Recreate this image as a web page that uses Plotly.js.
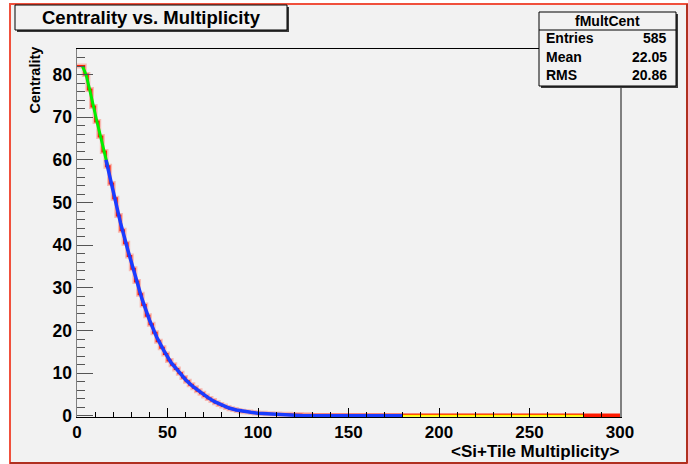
<!DOCTYPE html>
<html>
<head>
<meta charset="utf-8">
<script src="https://cdn.plot.ly/plotly-3.0.1.min.js"></script>
<style>html,body{margin:0;padding:0;background:#fff;}#chart{width:688px;height:464px;}</style>
</head>
<body>
<div id="chart"></div>
<script>
// ---- data ----
const binLow = [0,2,4,6,8,10,12,14,16,18,20,22,24,26,28,30,32,34,36,38,40,42,44,46,48,50,52,54,56,58,60,62,64,66,68,70,72,74,76,78,80,82,84,86,88,90,92,94,96,98,100,102,104,106,108,110,112,114,116,118,120,122,124,126,128];
const centrality = [82,82,80,76.5,72.5,69,65.5,62,58.5,54.5,51,47,43.5,40.5,37.5,34.5,31.5,28.5,26,23.5,21.5,19.5,17.5,16,14.5,13,12,11,10,9,8.1,7.3,6.6,5.9,5.3,4.7,4.1,3.6,3.1,2.7,2.3,2.0,1.7,1.5,1.3,1.1,1.0,0.9,0.8,0.7,0.6,0.6,0.5,0.5,0.45,0.45,0.4,0.4,0.4,0.35,0.35,0.35,0.3,0.3,0.3];
const binWidth = 2;
const tailX = [130, 300];
const tailY = [0.4, 0.4];
const greenX = [3,5,7,9,11,13,15,17];
const greenY = [82,80,76.5,72.5,69,65.5,62,58.5];
const blueX = [16,20,24,28,32,36,40,44,48,52,56,60,64,68,72,76,80,84,88,92,96,100,110,120,125,150,180];
const blueY = [60,52.8,45.3,39,33,27.3,22.5,18.5,15.3,12.5,10.5,8.5,6.9,5.6,4.4,3.35,2.5,1.85,1.4,1.05,0.85,0.65,0.4,0.25,0.05,0.02,0.02];
const yellowX = [180, 280];
const yellowY = [0.02, 0.02];
const redEndX = [280, 300];
const redEndY = [0.1, 0.1];
const xTicks = [0,50,100,150,200,250,300];
const yTicks = [0,10,20,30,40,50,60,70,80];
const titleText = "Centrality vs. Multiplicity";
const statsName = "fMultCent";
const statsLabels = ["Entries","Mean","RMS"];
const statsValues = ["585","22.05","20.86"];

// ---- geometry helpers (pixel -> paper) ----
const W = 688, H = 464;
const L = 77, R = 620, T = 49, B = 417;
const px = v => (v - L) / (R - L);
const py = v => (B - v) / (B - T);
const FONT = "Liberation Sans, Arial, sans-serif";

const histX = binLow.concat([binLow[binLow.length-1] + binWidth]);
const histY = centrality.concat([centrality[centrality.length-1]]);

const traces = [
  {x: histX, y: histY, mode:'lines', line:{shape:'hv', color:'rgba(255,80,60,0.35)', width:5}, hoverinfo:'skip'},
  {x: histX, y: histY, mode:'lines', line:{shape:'hv', color:'#ff1a00', width:2}},
  {x: tailX, y: tailY, mode:'lines', line:{color:'#ff1a00', width:1.5}},
  {x: greenX, y: greenY, mode:'lines', line:{color:'#00ee00', width:3}},
  {x: blueX, y: blueY, mode:'lines', line:{color:'#1a3cff', width:3.5}},
  {x: yellowX, y: yellowY, mode:'lines', line:{color:'#ffff00', width:2}},
  {x: redEndX, y: redEndY, mode:'lines', line:{color:'#ff1a00', width:3}}
];

const shapes = [
  // canvas
  {type:'rect', xref:'paper', yref:'paper', x0:px(10), x1:px(687), y0:py(4), y1:py(463), fillcolor:'#f2f2f2', line:{color:'#f0503c', width:2}, layer:'below'},
  {type:'line', xref:'paper', yref:'paper', x0:px(687), x1:px(687), y0:py(4), y1:py(463), line:{color:'#b03020', width:2}, layer:'below'},
  {type:'line', xref:'paper', yref:'paper', x0:px(10), x1:px(687), y0:py(463), y1:py(463), line:{color:'#b03020', width:2}, layer:'below'},
  // title box shadow + box
  {type:'rect', xref:'paper', yref:'paper', x0:px(17), x1:px(289), y0:py(7), y1:py(32), fillcolor:'#3a3a3a', line:{width:0}},
  {type:'rect', xref:'paper', yref:'paper', x0:px(15), x1:px(287), y0:py(5), y1:py(30), fillcolor:'#f2f2f2', line:{color:'#000', width:1}},
  // stats box shadow + box
  {type:'rect', xref:'paper', yref:'paper', x0:px(541), x1:px(678), y0:py(14), y1:py(88), fillcolor:'#3a3a3a', line:{width:0}},
  {type:'rect', xref:'paper', yref:'paper', x0:px(539), x1:px(676), y0:py(12), y1:py(86), fillcolor:'#f2f2f2', line:{color:'#000', width:1}},
  {type:'line', xref:'paper', yref:'paper', x0:px(539), x1:px(676), y0:py(30), y1:py(30), line:{color:'#000', width:1}}
];

const annotations = [
  {text:titleText, xref:'paper', yref:'paper', x:px(151), y:py(17.5), xanchor:'center', yanchor:'middle', showarrow:false, font:{family:FONT, size:18.5, weight:'bold', color:'#000'}},
  {text:statsName, xref:'paper', yref:'paper', x:px(607), y:py(21), xanchor:'center', yanchor:'middle', showarrow:false, font:{family:FONT, size:14, weight:'bold', color:'#000'}},
  {text:"Centrality", xref:'paper', yref:'paper', x:px(35), y:py(45), xanchor:'center', yanchor:'top', textangle:-90, showarrow:false, font:{family:FONT, size:14.5, weight:'bold', color:'#000'}},
  {text:"&lt;Si+Tile Multiplicity&gt;", xref:'paper', yref:'paper', x:px(621), y:py(451), xanchor:'right', yanchor:'middle', showarrow:false, font:{family:FONT, size:17, weight:'bold', color:'#000'}}
];
const rowY = [38, 57, 75];
statsLabels.forEach((lab, i) => {
  annotations.push({text:lab, xref:'paper', yref:'paper', x:px(544), y:py(rowY[i]), xanchor:'left', yanchor:'middle', showarrow:false, font:{family:FONT, size:14, weight:'bold', color:'#000'}});
  annotations.push({text:statsValues[i], xref:'paper', yref:'paper', x:px(669), y:py(rowY[i]), xanchor:'right', yanchor:'middle', showarrow:false, font:{family:FONT, size:14, weight:'bold', color:'#000'}});
});

const layout = {
  width: W, height: H,
  margin: {l:L, r:W-R, t:T, b:H-B, pad:0},
  paper_bgcolor:'#ffffff',
  plot_bgcolor:'#f2f2f2',
  showlegend:false,
  xaxis: {
    range:[0,300], tickvals:xTicks, ticktext:xTicks.map(String),
    ticks:'inside', ticklen:9, tickcolor:'#000', tickwidth:1,
    minor:{ticks:'inside', ticklen:5, dtick:10, tickcolor:'#000', showgrid:false},
    showgrid:false, zeroline:false,
    showline:true, linecolor:'#000', linewidth:1, mirror:true,
    tickfont:{family:FONT, size:17, weight:'bold', color:'#000'},
    fixedrange:true
  },
  yaxis: {
    range:[-0.25,86], tickvals:yTicks, ticktext:yTicks.map(String),
    ticks:'inside', ticklen:16, tickcolor:'#555', tickwidth:1,
    minor:{ticks:'inside', ticklen:8, dtick:2, tickcolor:'#555', showgrid:false},
    showgrid:false, zeroline:false,
    showline:true, linecolor:'#808080', linewidth:1.5, mirror:true,
    tickfont:{family:FONT, size:17.5, weight:'bold', color:'#000'},
    fixedrange:true
  },
  shapes: shapes,
  annotations: annotations
};

Plotly.newPlot('chart', traces, layout, {displayModeBar:false, staticPlot:true});
</script>
</body>
</html>
